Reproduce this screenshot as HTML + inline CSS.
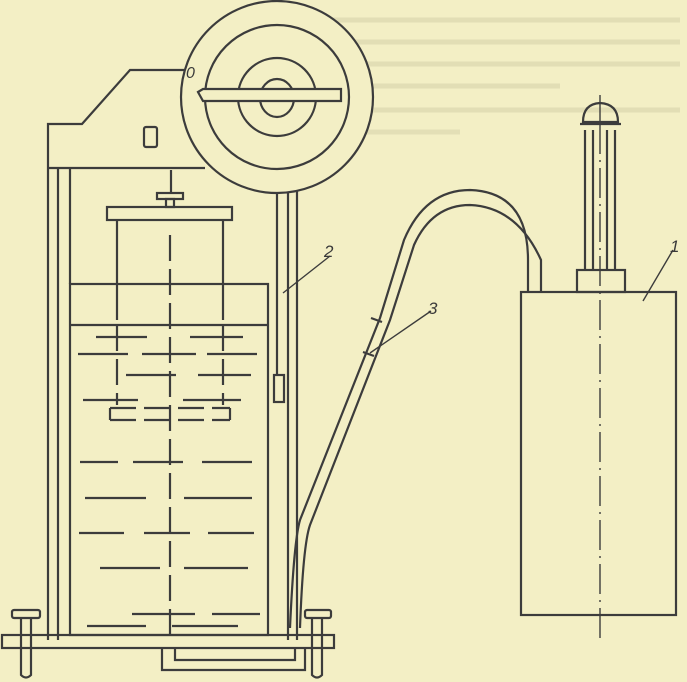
<!DOCTYPE html>
<html><head><meta charset="utf-8"><style>
html,body{margin:0;padding:0;background:#f3efc5;}
svg{display:block;}
text{font-family:"Liberation Sans",sans-serif;font-style:italic;fill:#3a3a3a;}
</style></head><body>
<svg width="687" height="682" viewBox="0 0 687 682" xmlns="http://www.w3.org/2000/svg">
<rect width="687" height="682" fill="#f3efc5"/>
<g fill="none" stroke="#d8d3ac" stroke-width="5" opacity="0.6">
<line x1="330" y1="20" x2="680" y2="20"/><line x1="250" y1="42" x2="680" y2="42"/>
<line x1="250" y1="64" x2="680" y2="64"/><line x1="250" y1="86" x2="560" y2="86"/>
<line x1="330" y1="110" x2="680" y2="110"/><line x1="250" y1="132" x2="460" y2="132"/>
</g>
<g fill="none" stroke="#3c3c3c" stroke-width="2.2">
<!-- housing -->
<path d="M48 640 V124 H82 L130 70 H184"/>
<path d="M48 168 H205"/>
<line x1="58" y1="168" x2="58" y2="640"/>
<line x1="70" y1="168" x2="70" y2="284"/>
<rect x="144" y="127" width="13" height="20" rx="2"/>
<!-- dial -->
<circle cx="277" cy="97" r="96" fill="#f3efc5"/>
<circle cx="277" cy="97" r="72"/>
<circle cx="277" cy="97" r="39"/>
<ellipse cx="277" cy="98" rx="17" ry="19"/>
<path d="M198 92 L203 89 H341 V101 H203 Z" fill="#f3efc5"/>
<!-- rod from dial -->
<line x1="277" y1="192" x2="277" y2="375"/>
<rect x="274" y="375" width="10" height="27"/>
<line x1="288" y1="192" x2="288" y2="640"/>
<line x1="297" y1="190" x2="297" y2="640"/>
<!-- knob and lid -->
<line x1="171" y1="170" x2="171" y2="193"/>
<rect x="157" y="193" width="26" height="6"/>
<rect x="166" y="199" width="8" height="8"/>
<rect x="107" y="207" width="125" height="13"/>
<line x1="117" y1="220" x2="117" y2="320"/>
<line x1="223" y1="220" x2="223" y2="320"/>
<!-- big vessel -->
<rect x="70" y="284" width="198" height="351"/>
<line x1="70" y1="325" x2="268" y2="325"/>
</g>
<g fill="none" stroke="#3c3c3c" stroke-width="2.2" stroke-dasharray="26,8">
<line x1="117" y1="325" x2="117" y2="405"/>
<line x1="223" y1="325" x2="223" y2="405"/>
<line x1="170" y1="235" x2="170" y2="640"/>
<line x1="110" y1="408" x2="230" y2="408"/>
<line x1="110" y1="420" x2="230" y2="420"/>
</g>
<g fill="none" stroke="#3c3c3c" stroke-width="2.2">
<line x1="110" y1="408" x2="110" y2="420"/><line x1="230" y1="408" x2="230" y2="420"/>
<path d="M96 337H147M190 337H243M78 354H128M142 354H196M207 354H257M126 375H176M198 375H251M83 400H138M183 400H241"/>
<path d="M80 462H118M133 462H183M202 462H252M85 498H146M184 498H252M79 533H124M144 533H190M208 533H254M100 568H160M184 568H248M132 614H195M212 614H260M87 626H146M172 626H238"/>
<!-- base -->
<rect x="2" y="635" width="332" height="13"/>
<path d="M162 648 V670 H305 V648"/><path d="M175 648 V660 H295 V648"/>
<rect x="12" y="610" width="28" height="8" rx="2"/>
<path d="M21 618 V675 Q26 680 31 675 V618"/>
<rect x="305" y="610" width="26" height="8" rx="2"/>
<path d="M312 618 V675 Q317 680 322 675 V618"/>
<!-- hose -->
<path d="M290 628 Q294 540 300 520 L380 318 L404 240 Q425 190 470 190 Q528 192 528 260 V292"/>
<path d="M300 628 Q303 545 310 525 L390 320 L414 245 Q432 205 470 205 Q517 207 541 260 V292" transform=""/>
<line x1="371" y1="318" x2="382" y2="322"/>
<line x1="363" y1="352" x2="374" y2="356"/>
<line x1="431" y1="311" x2="370" y2="353" stroke-width="1.4"/>
<!-- vessel 1 -->
<rect x="521" y="292" width="155" height="323"/>
<rect x="577" y="270" width="48" height="22"/>
<line x1="585" y1="130" x2="585" y2="270"/><line x1="593" y1="130" x2="593" y2="270"/>
<line x1="607" y1="130" x2="607" y2="270"/><line x1="615" y1="130" x2="615" y2="270"/>
<path d="M583 122 Q583 104 600 103 Q618 104 618 122 Z"/>
<line x1="580" y1="124" x2="621" y2="124"/>
<line x1="600" y1="95" x2="600" y2="124" stroke-width="1.4"/>
<line x1="600" y1="124" x2="600" y2="640" stroke-width="1.4" stroke-dasharray="30,6,2,6"/>
<line x1="673" y1="250" x2="643" y2="301" stroke-width="1.4"/>
<line x1="330" y1="256" x2="283" y2="293" stroke-width="1.4"/>
</g>
<text x="324" y="257" font-size="17">2</text>
<text x="428" y="314" font-size="17">3</text>
<text x="670" y="252" font-size="17">1</text>
<text x="186" y="78" font-size="16">0</text>
</svg>
</body></html>
